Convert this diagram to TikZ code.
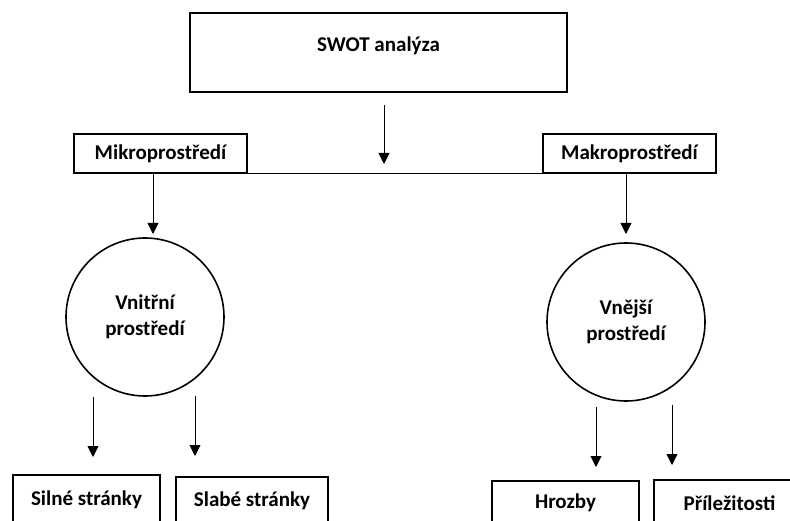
\documentclass[tikz,border=0pt]{standalone}
\usepackage{fontspec}
\setmainfont{Carlito}
\usetikzlibrary{arrows.meta}
\begin{document}
\begin{tikzpicture}[x=1pt,y=-1pt,
  lbl/.style={font=\bfseries\fontsize{21}{26}\selectfont, align=center},
  box/.style={lbl, draw, line width=1.6pt, inner sep=0pt},
  circ/.style={lbl, draw, circle, line width=1.6pt, inner sep=0pt},
  arr/.style={line width=0.9pt, -{Triangle[width=11pt,length=11pt]}},
  link/.style={line width=0.9pt}]
\clip (0,0) rectangle (790,521);
\useasboundingbox (0,0) rectangle (790,521);

% top box
\node[box, minimum width=377pt, text height=39pt, text depth=40pt, anchor=base] (swot) at (378.5,52) {SWOT analýza};

% second level boxes
\node[box, minimum width=173pt, minimum height=39pt] (mikro) at (160.5,153.5) {Mikroprostředí};
\node[box, minimum width=173pt, minimum height=39pt] (makro) at (629.5,153.5) {Makroprostředí};
\draw[link] (mikro.south east) -- (makro.south west);

% arrow from SWOT to the line
\coordinate (a0s) at (384,105);
\coordinate (a0e) at (384,164);
\draw[arr] (a0s) -- (a0e);

% circles
\node[circ, minimum size=158pt] (vnitrni) at (145,317) {Vnitřní\\prostředí};
\node[circ, minimum size=158pt] (vnejsi) at (626,322) {Vnější\\prostředí};

\coordinate (a1s) at (153,173);
\coordinate (a1e) at (153,234);
\draw[arr] (a1s) -- (a1e);
\coordinate (a2s) at (626,173);
\coordinate (a2e) at (626,234);
\draw[arr] (a2s) -- (a2e);

% bottom boxes
\node[box, minimum width=147pt, minimum height=50pt] (silne) at (86.5,500) {Silné stránky};
\node[box, minimum width=152pt, minimum height=48pt] (slabe) at (252,501) {Slabé stránky};
\node[box, minimum width=147pt, minimum height=44pt] (hrozby) at (565.5,503) {Hrozby};
\node[box, minimum width=151pt, minimum height=46pt] (prilez) at (729.5,503) {Příležitosti};

% bottom arrows
\coordinate (b1s) at (93,397);
\coordinate (b1e) at (93,457);
\draw[arr] (b1s) -- (b1e);
\coordinate (b2s) at (195,396);
\coordinate (b2e) at (195,456);
\draw[arr] (b2s) -- (b2e);
\coordinate (b3s) at (596,407);
\coordinate (b3e) at (596,467);
\draw[arr] (b3s) -- (b3e);
\coordinate (b4s) at (672,405);
\coordinate (b4e) at (672,465);
\draw[arr] (b4s) -- (b4e);
\end{tikzpicture}
\end{document}
